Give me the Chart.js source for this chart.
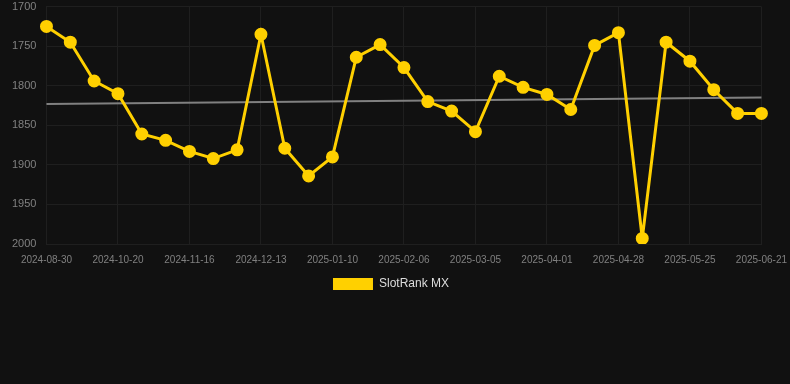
<!DOCTYPE html>
<html>
<head>
<meta charset="utf-8">
<script src="https://cdn.jsdelivr.net/npm/chart.js@4"></script>
<style>
  html, body { margin: 0; padding: 0; background: #111111; }
  #wrap { width: 790px; height: 308px; position: relative; }
</style>
</head>
<body>
<div id="wrap"><canvas id="c"></canvas></div>
<script>
const categories = [
  "2024-08-30","2024-09-16","2024-10-03","2024-10-20","2024-10-29","2024-11-07",
  "2024-11-16","2024-11-25","2024-12-04","2024-12-13","2024-12-22","2025-01-01",
  "2025-01-10","2025-01-19","2025-01-28","2025-02-06","2025-02-15","2025-02-24",
  "2025-03-05","2025-03-14","2025-03-23","2025-04-01","2025-04-10","2025-04-19",
  "2025-04-28","2025-05-07","2025-05-16","2025-05-25","2025-06-03","2025-06-12",
  "2025-06-21"
];
const rankValues = [
  1725, 1745, 1794, 1810, 1861, 1869, 1883, 1892, 1881, 1735, 1879, 1914,
  1890, 1764, 1748, 1777, 1820, 1832, 1858, 1788, 1802, 1811, 1830, 1749,
  1733, 1993, 1745, 1769, 1805, 1835, 1835
];
const trendValues = [1823].concat(new Array(29).fill(null)).concat([1815]);
const yTicks = [1700, 1750, 1800, 1850, 1900, 1950, 2000];

new Chart(document.getElementById('c'), {
  type: 'line',
  data: {
    labels: categories,
    datasets: [
      {
        label: 'SlotRank MX',
        data: rankValues,
        borderColor: '#FFD000',
        backgroundColor: '#FFD000',
        borderWidth: 3,
        pointRadius: 5,
        pointHoverRadius: 5,
        pointBackgroundColor: '#FFD000',
        pointBorderColor: '#FFD000',
        tension: 0,
        order: 0
      },
      {
        label: 'trend',
        data: trendValues,
        borderColor: '#808080',
        borderWidth: 2,
        pointRadius: 0,
        spanGaps: true,
        tension: 0,
        order: 1
      }
    ]
  },
  options: {
    responsive: true,
    maintainAspectRatio: false,
    animation: false,
    layout: { autoPadding: false, padding: { top: 0, right: 20, bottom: 8, left: 12 } },
    scales: {
      x: {
        grid: { color: '#1f1f1f', drawTicks: true, tickLength: 7, tickColor: 'rgba(0,0,0,0)' },
        border: { color: '#1f1f1f' },
        ticks: {
          autoSkip: false,
          maxRotation: 0,
          color: '#808080',
          font: { size: 10 },
          padding: 3,
          callback: function(v, i) { return i % 3 === 0 ? categories[i] : null; }
        }
      },
      y: {
        reverse: true,
        min: 1700,
        max: 2000,
        afterBuildTicks: function(axis) { axis.ticks = yTicks.map(v => ({ value: v })); },
        grid: { color: '#1f1f1f', drawTicks: true, tickLength: 10, tickColor: 'rgba(0,0,0,0)' },
        border: { display: false },
        ticks: {
          color: '#808080',
          font: { size: 11 },
          padding: 0,
          callback: function(v) { return String(v); }
        }
      }
    },
    plugins: {
      legend: {
        position: 'bottom',
        labels: {
          color: '#dddddd',
          font: { size: 12 },
          boxWidth: 40,
          boxHeight: 12,
          padding: 9,
          filter: function(item) { item.lineWidth = 0; return item.text === 'SlotRank MX'; }
        }
      },
      tooltip: { enabled: false }
    }
  }
});
</script>
</body>
</html>
